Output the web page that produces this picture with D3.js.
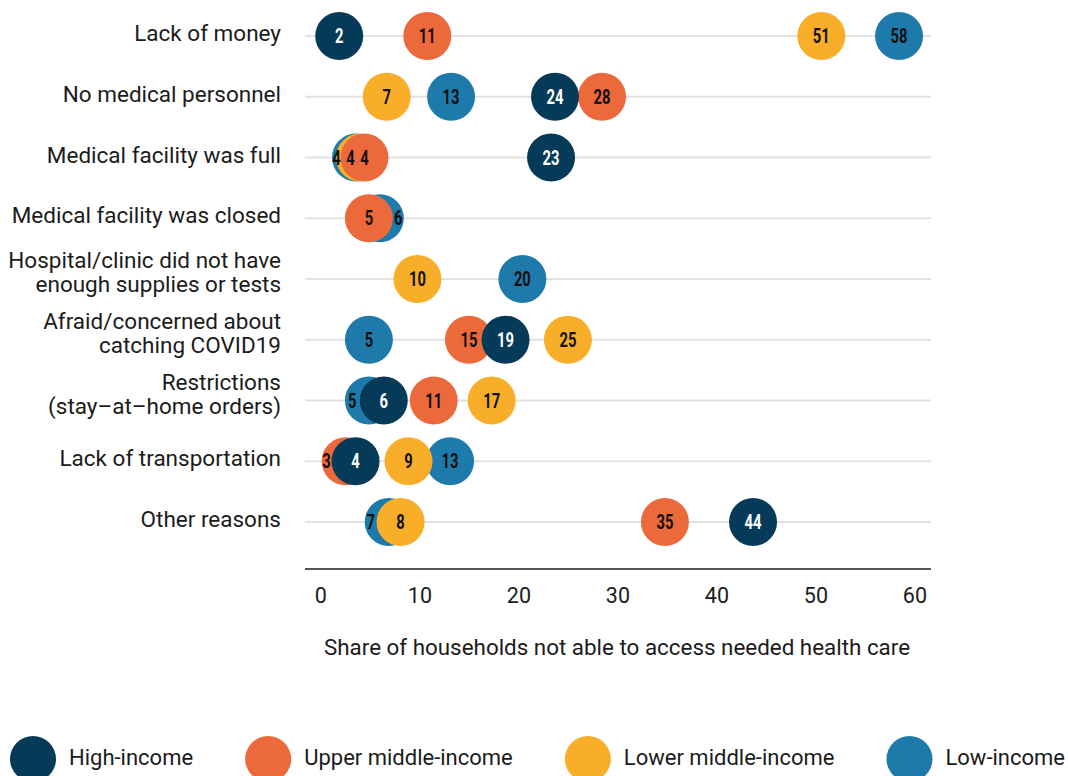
<!DOCTYPE html>
<html>
<head>
<meta charset="utf-8">
<script src="https://cdn.jsdelivr.net/npm/d3@7"></script>
<style>
  html, body { margin: 0; padding: 0; background: #fff; }
  svg { display: block; }
  .txt { font-family: Roboto, "Noto Sans", sans-serif; fill: #1b1b1b; }
  .val { font-family: Roboto, "Noto Sans", sans-serif; font-weight: 700; }
</style>
</head>
<body>
<svg id="chart" width="1068" height="776"></svg>
<script>
// Reasons households could not get needed health care (each entry is one text line)
const categories = [
  ["Lack of money"],
  ["No medical personnel"],
  ["Medical facility was full"],
  ["Medical facility was closed"],
  ["Hospital/clinic did not have", "enough supplies or tests"],
  ["Afraid/concerned about", "catching COVID19"],
  ["Restrictions", "(stay–at–home orders)"],
  ["Lack of transportation"],
  ["Other reasons"]
];

// Income groups, listed in drawing order (first is drawn underneath)
const groups = ["Low-income", "Lower middle-income", "Upper middle-income", "High-income"];
const legendOrder = ["High-income", "Upper middle-income", "Lower middle-income", "Low-income"];
const groupColors = ["#1f7aac", "#f9ae29", "#ec693b", "#053a58"];

// Share of households (%), one value per category; null = not reported
const lowIncome         = [58.45, 13.2, 3.6, 6.0, 20.4, 4.9, 4.9, 13.1, 6.9];
const lowerMiddleIncome = [50.6, 6.7, 4.0, null, 9.8, 25.0, 17.3, 8.9, 8.1];
const upperMiddleIncome = [10.8, 28.45, 4.45, 4.9, null, 15.0, 11.45, 2.55, 34.8];
const highIncome        = [1.9, 23.7, 23.3, null, null, 18.7, 6.4, 3.55, 43.7];
const seriesValues = [lowIncome, lowerMiddleIncome, upperMiddleIncome, highIncome];

const xTicks = [0, 10, 20, 30, 40, 50, 60];
const axisTitle = "Share of households not able to access needed health care";

const svg = d3.select("#chart");
const R = 24;
const SQUEEZE = 0.74;   // horizontal squeeze for the condensed value labels

const x = d3.scaleLinear().domain([0, 60]).range([320.4, 914.4]);
const y = d3.scalePoint().domain(d3.range(categories.length)).range([36, 522]);
const color = d3.scaleOrdinal().domain(groups).range(groupColors);

// Horizontal guide lines
svg.append("g").selectAll("line")
  .data(d3.range(categories.length))
  .join("line")
  .attr("x1", 305).attr("x2", 931)
  .attr("y1", d => y(d)).attr("y2", d => y(d))
  .attr("stroke", "#e2e2e2").attr("stroke-width", 2.2);

// Category labels
const catG = svg.append("g");
categories.forEach((lines, i) => {
  const t = catG.append("text").attr("class", "txt")
    .attr("text-anchor", "end").attr("font-size", 22.5);
  const base = lines.length === 1 ? [5] : [-11, 13];
  lines.forEach((ln, j) => {
    t.append("tspan").attr("x", 281).attr("y", y(i) + base[j]).text(ln);
  });
});

// Bottom axis
const axisY = 569;
const axis = svg.append("g").attr("transform", `translate(0,${axisY})`)
  .call(d3.axisBottom(x).tickValues(xTicks).tickSize(0).tickPadding(0).tickFormat(d3.format("d")));
axis.select(".domain").remove();
axis.selectAll("text").attr("class", "txt").attr("font-size", 21.5)
  .attr("dy", null).attr("y", 34).style("font-family", null);
svg.append("line").attr("x1", 305).attr("x2", 931).attr("y1", axisY).attr("y2", axisY)
  .attr("stroke", "#1b1b1b").attr("stroke-width", 1.6);

svg.append("text").attr("class", "txt").attr("font-size", 22.4)
  .attr("x", 617).attr("y", 655).attr("text-anchor", "middle").text(axisTitle);

// Dots, one row per category
const dots = [];
categories.forEach((_, i) => {
  groups.forEach((g, k) => {
    const v = seriesValues[k][i];
    if (v == null) return;
    dots.push({ row: i, group: g, layer: k, value: v, cx: x(v), cy: y(i) });
  });
});

svg.append("g").selectAll("circle")
  .data(dots)
  .join("circle")
  .attr("cx", d => d.cx).attr("cy", d => d.cy).attr("r", R)
  .attr("fill", d => color(d.group));

// Value labels: keep each label in the visible part of its dot
const labels = svg.append("g").selectAll("text")
  .data(dots)
  .join("text")
  .attr("class", "val")
  .attr("font-size", 20)
  .attr("text-anchor", "middle")
  .attr("fill", d => d.group === "High-income" ? "#ffffff" : "#111111")
  .text(d => Math.round(d.value));

labels.each(function (d) { d.lw = this.getComputedTextLength() * SQUEEZE; d.lx = d.cx; });

d3.groups(dots, d => d.row).forEach(([, rowDots]) => {
  // walk from the top layer down so covering labels are placed first
  const ordered = rowDots.slice().sort((a, b) => b.layer - a.layer);
  ordered.forEach(d => {
    const above = ordered.filter(o => o.layer > d.layer && Math.abs(o.cx - d.cx) < 2 * R);
    if (!above.length) return;
    const t = above.reduce((a, b) => Math.abs(b.cx - d.cx) < Math.abs(a.cx - d.cx) ? b : a);
    const side = d.cx <= t.cx ? -1 : 1;
    const gap = Math.abs(t.cx - d.cx);
    const clear = side < 0
      ? d.cx + d.lw / 2 <= t.cx - R - 2
      : d.cx - d.lw / 2 >= t.cx + R + 2;
    if (clear) return;
    if (gap >= d.lw + 1) d.lx = (d.cx + t.cx) / 2 + side * R;
    else d.lx = t.lx + side * 14;
  });
});
labels.attr("transform", d => `translate(${d.lx},${d.cy + 7}) scale(${SQUEEZE},1)`);

// Legend, spread across the full width with equal gaps
const legend = svg.append("g");
const items = legendOrder.map(g => {
  const t = legend.append("text").attr("class", "txt").attr("font-size", 22).attr("y", 765).text(g);
  return { g, t, w: t.node().getComputedTextLength() };
});
const left = 10, right = 1065, lr = 23, pad = 13;
const used = d3.sum(items, d => 2 * lr + pad + d.w);
const spacing = (right - left - used) / (items.length - 1);
let pos = left;
items.forEach(d => {
  legend.append("circle").attr("cx", pos + lr).attr("cy", 759).attr("r", lr).attr("fill", color(d.g));
  d.t.attr("x", pos + 2 * lr + pad);
  pos += 2 * lr + pad + d.w + spacing;
});
</script>
</body>
</html>
